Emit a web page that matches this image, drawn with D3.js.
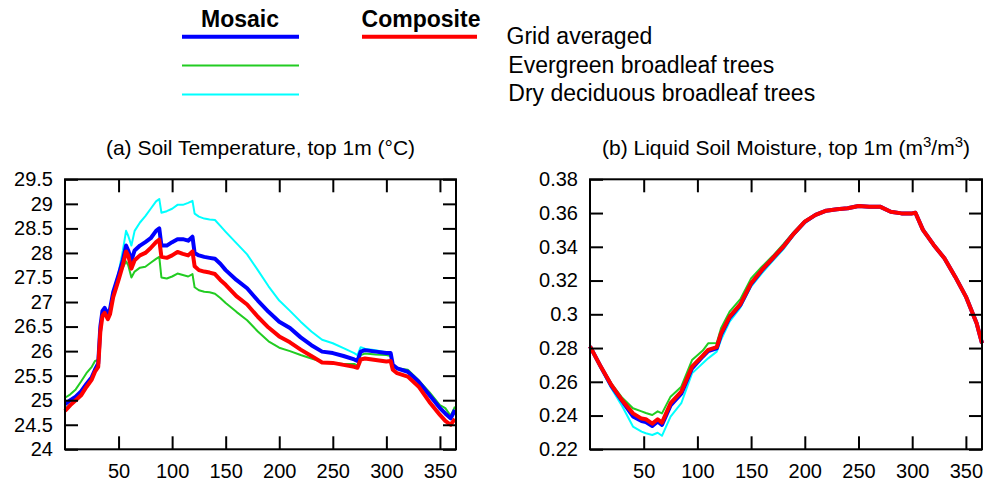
<!DOCTYPE html>
<html>
<head>
<meta charset="utf-8">
<script src="https://cdn.jsdelivr.net/npm/d3@7"></script>
<style>
  body { margin: 0; background: #fff; }
  text { font-family: "Liberation Sans", Arial, sans-serif; fill: #000; }
</style>
</head>
<body>
<div id="chart"></div>
<script>
// (a) soil temperature, top 1m (degC)
var tempDays = [0, 5, 10, 15, 20, 25, 28, 31, 33, 35, 37, 40, 42, 45, 50, 54, 57, 59, 62, 65,
  70, 75, 80, 85, 88, 90, 95, 100, 105, 110, 115, 119, 121, 125, 130, 135, 140, 145, 150, 160,
  170, 180, 190, 200, 210, 220, 230, 240, 250, 260, 270, 273, 276, 280, 290, 300, 304, 306, 310, 320,
  330, 340, 350, 355, 360, 364];
var tempMosaic = [24.92, 25.0, 25.07, 25.18, 25.33, 25.47, 25.62, 25.75, 26.5, 26.82, 26.88, 26.75, 26.85, 27.2, 27.55, 27.85, 28.15, 28.05, 27.85, 28.05,
  28.15, 28.22, 28.3, 28.45, 28.5, 28.15, 28.15, 28.22, 28.28, 28.28, 28.25, 28.33, 28.0, 27.95, 27.92, 27.9, 27.88, 27.78, 27.65, 27.45,
  27.28, 27.03, 26.8, 26.6, 26.47, 26.28, 26.12, 25.99, 25.96, 25.9, 25.83, 25.8, 25.99, 26.02, 25.99, 25.96, 25.96, 25.72, 25.65, 25.58,
  25.38, 25.11, 24.84, 24.73, 24.63, 24.8];
var tempComposite = [24.78, 24.9, 25.0, 25.1, 25.27, 25.42, 25.58, 25.68, 26.4, 26.72, 26.78, 26.65, 26.75, 27.1, 27.45, 27.75, 28.03, 27.95, 27.68, 27.85,
  27.95, 28.0, 28.1, 28.22, 28.27, 27.92, 27.9, 27.95, 28.02, 27.98, 27.95, 28.03, 27.73, 27.65, 27.62, 27.6, 27.57, 27.45, 27.35, 27.12,
  26.95, 26.7, 26.48, 26.3, 26.18, 26.03, 25.9, 25.77, 25.76, 25.72, 25.68, 25.66, 25.83, 25.85, 25.82, 25.79, 25.8, 25.62, 25.55, 25.48,
  25.28, 24.97, 24.7, 24.58, 24.5, 24.62];
var tempEvergreen = [25.05, 25.12, 25.22, 25.38, 25.55, 25.68, 25.8, 25.82, 26.5, 26.8, 26.85, 26.72, 26.85, 27.15, 27.5, 27.7, 27.83, 27.75, 27.5, 27.62,
  27.7, 27.72, 27.8, 27.88, 27.92, 27.5, 27.48, 27.52, 27.58, 27.55, 27.52, 27.57, 27.3, 27.24, 27.21, 27.2, 27.17, 27.08, 26.98, 26.8,
  26.63, 26.4, 26.2, 26.07, 26.0, 25.92, 25.85, 25.78, 25.76, 25.74, 25.74, 25.7, 25.92, 25.95, 25.93, 25.92, 25.9, 25.68, 25.65, 25.62,
  25.41, 25.17, 24.9, 24.84, 24.68, 24.87];
var tempDeciduous = [24.83, 24.92, 25.02, 25.12, 25.27, 25.42, 25.58, 25.72, 26.5, 26.82, 26.88, 26.75, 26.85, 27.22, 27.6, 28.05, 28.45, 28.35, 28.15, 28.45,
  28.62, 28.75, 28.9, 29.05, 29.1, 28.82, 28.85, 28.9, 28.98, 28.98, 29.02, 29.06, 28.8, 28.74, 28.7, 28.68, 28.67, 28.55, 28.43, 28.2,
  27.97, 27.65, 27.32, 27.03, 26.82, 26.6, 26.4, 26.23, 26.16, 26.06, 25.96, 25.92, 26.08, 26.05, 26.02, 25.97, 25.96, 25.72, 25.65, 25.58,
  25.38, 25.12, 24.84, 24.75, 24.63, 24.75];
var tempTicks = [24, 24.5, 25, 25.5, 26, 26.5, 27, 27.5, 28, 28.5, 29, 29.5];

// (b) liquid soil moisture, top 1m (m3/m3)
var moistDays = [0, 10, 20, 30, 40, 48, 52, 58, 63, 67, 75, 85, 95, 105, 110, 118, 122, 130, 140, 150,
  160, 170, 180, 190, 200, 210, 220, 230, 240, 250, 260, 270, 280, 290, 300, 303, 310, 320, 330, 340,
  350, 360, 365];
var moistComposite = [0.281, 0.269, 0.258, 0.249, 0.2413, 0.2382, 0.2378, 0.2352, 0.2378, 0.2358, 0.2473, 0.2542, 0.269, 0.2755, 0.2789, 0.2805, 0.2887, 0.2986, 0.306, 0.3184,
  0.3263, 0.3332, 0.3401, 0.348, 0.3549, 0.3589, 0.3614, 0.3622, 0.3628, 0.3642, 0.3638, 0.3638, 0.3608, 0.3598, 0.3598, 0.3602, 0.35, 0.3411, 0.3332, 0.3223,
  0.3105, 0.2947, 0.2828];
var moistMosaic = [0.281, 0.269, 0.2575, 0.2485, 0.2395, 0.2368, 0.2362, 0.2338, 0.2365, 0.2345, 0.246, 0.253, 0.268, 0.275, 0.2782, 0.2798, 0.288, 0.298, 0.3055, 0.318,
  0.326, 0.333, 0.34, 0.348, 0.3548, 0.3589, 0.3614, 0.3622, 0.3628, 0.3642, 0.3638, 0.3638, 0.3608, 0.3598, 0.3598, 0.3602, 0.35, 0.3411, 0.3332, 0.3223,
  0.3105, 0.2947, 0.2828];
var moistEvergreen = [0.281, 0.2695, 0.259, 0.2505, 0.2443, 0.2425, 0.2415, 0.2403, 0.2425, 0.2413, 0.2512, 0.2571, 0.2729, 0.2785, 0.2828, 0.283, 0.2917, 0.3016, 0.309, 0.3213,
  0.3282, 0.3345, 0.3415, 0.349, 0.3555, 0.3592, 0.3614, 0.3622, 0.3628, 0.3642, 0.3638, 0.3638, 0.3608, 0.3598, 0.3598, 0.3602, 0.35, 0.3411, 0.3332, 0.3223,
  0.3105, 0.2947, 0.2828];
var moistDeciduous = [0.281, 0.268, 0.256, 0.2455, 0.2335, 0.2305, 0.2295, 0.2285, 0.2298, 0.228, 0.2394, 0.2473, 0.265, 0.271, 0.2739, 0.2779, 0.2848, 0.2957, 0.304, 0.3164,
  0.3243, 0.3315, 0.3385, 0.347, 0.354, 0.3586, 0.3612, 0.3622, 0.3628, 0.3642, 0.3638, 0.3638, 0.3608, 0.3598, 0.3598, 0.3602, 0.35, 0.3411, 0.3332, 0.3223,
  0.3105, 0.2947, 0.2828];
var moistTicks = [0.22, 0.24, 0.26, 0.28, 0.3, 0.32, 0.34, 0.36, 0.38];

var dayTicks = [50, 100, 150, 200, 250, 300, 350];

var series = ["Evergreen broadleaf trees", "Dry deciduous broadleaf trees", "Mosaic", "Composite"];
var colors = ["#22cc22", "#00ffff", "#0000ff", "#ff0000"];
var widths = [2, 2, 4, 4];

var width = 985, height = 483;

var svg = d3.select("#chart")
  .append("svg")
    .attr("width", width)
    .attr("height", height);

// legend
var legend = svg.append("g");
legend.append("text").attr("x", 240).attr("y", 26.5)
  .attr("text-anchor", "middle").attr("font-size", 23).attr("font-weight", "bold").text("Mosaic");
legend.append("text").attr("x", 421).attr("y", 26.5)
  .attr("text-anchor", "middle").attr("font-size", 23).attr("font-weight", "bold").text("Composite");

var legendLines = [
  {x1: 182, x2: 299, y: 36.7, c: colors[2], w: 4},
  {x1: 362, x2: 477, y: 36.7, c: colors[3], w: 4},
  {x1: 182, x2: 299, y: 65.5, c: colors[0], w: 2},
  {x1: 182, x2: 299, y: 94.5, c: colors[1], w: 2}
];
legend.selectAll("line")
  .data(legendLines)
  .enter().append("line")
    .attr("x1", function(d) { return d.x1; })
    .attr("x2", function(d) { return d.x2; })
    .attr("y1", function(d) { return d.y; })
    .attr("y2", function(d) { return d.y; })
    .attr("stroke", function(d) { return d.c; })
    .attr("stroke-width", function(d) { return d.w; });

var legendLabels = [
  {x: 506.5, y: 44.3, t: "Grid averaged"},
  {x: 508.3, y: 72.5, t: "Evergreen broadleaf trees"},
  {x: 508.3, y: 101, t: "Dry deciduous broadleaf trees"}
];
legend.selectAll("text.lab")
  .data(legendLabels)
  .enter().append("text")
    .attr("class", "lab")
    .attr("x", function(d) { return d.x; })
    .attr("y", function(d) { return d.y; })
    .attr("font-size", 23)
    .text(function(d) { return d.t; });

function panel(left, right, days, rows, yDomain, yTicks, fmt, title) {
  var top = 179.3, bottom = 449.3;
  var x = d3.scaleLinear().domain([0, 365]).range([left, right]);
  var y = d3.scaleLinear().domain(yDomain).range([bottom, top]);
  var g = svg.append("g");

  // lines first, frame drawn over them
  var line = d3.line()
    .x(function(d) { return x(d[0]); })
    .y(function(d) { return y(d[1]); });
  rows.forEach(function(vals, i) {
    g.append("path")
      .datum(days.map(function(d, j) { return [d, vals[j]]; }))
      .attr("fill", "none")
      .attr("stroke", colors[i])
      .attr("stroke-width", widths[i])
      .attr("stroke-linejoin", "round")
      .attr("d", line);
  });

  var tick = 13;
  g.append("g")
    .attr("transform", "translate(" + left + ",0)")
    .call(d3.axisLeft(y).tickValues(yTicks).tickSize(-tick).tickPadding(12).tickFormat(fmt));
  g.append("g")
    .attr("transform", "translate(" + right + ",0)")
    .call(d3.axisRight(y).tickValues(yTicks).tickSize(-tick).tickFormat(""));
  g.append("g")
    .attr("transform", "translate(0," + bottom + ")")
    .call(d3.axisBottom(x).tickValues(dayTicks).tickSize(-tick).tickPadding(15));
  g.append("g")
    .attr("transform", "translate(0," + top + ")")
    .call(d3.axisTop(x).tickValues(dayTicks).tickSize(-tick).tickFormat(""));

  g.selectAll(".domain").remove();
  g.selectAll(".tick line").attr("stroke", "#000").attr("stroke-width", 2);
  g.selectAll(".tick text")
    .attr("font-family", "Liberation Sans, Arial, sans-serif")
    .attr("font-size", 20)
    .attr("fill", "#000");

  g.append("rect")
    .attr("x", left).attr("y", top)
    .attr("width", right - left).attr("height", bottom - top)
    .attr("fill", "none")
    .attr("stroke", "#000")
    .attr("stroke-width", 2);

  var t = g.append("text")
    .attr("x", (left + right) / 2)
    .attr("y", 155)
    .attr("text-anchor", "middle")
    .attr("font-size", 21);
  title(t);
}

panel(65, 456, tempDays, [tempEvergreen, tempDeciduous, tempMosaic, tempComposite],
  [24, 29.5], tempTicks, function(d) { return d; },
  function(t) { t.text("(a) Soil Temperature, top 1m (\u00B0C)"); });

panel(590, 982, moistDays, [moistEvergreen, moistDeciduous, moistMosaic, moistComposite],
  [0.22, 0.38], moistTicks, function(d) { return d; },
  function(t) {
    t.append("tspan").text("(b) Liquid Soil Moisture, top 1m (m");
    t.append("tspan").attr("dy", -8).attr("font-size", 15).text("3");
    t.append("tspan").attr("dy", 8).text("/m");
    t.append("tspan").attr("dy", -8).attr("font-size", 15).text("3");
    t.append("tspan").attr("dy", 8).text(")");
  });
</script>
</body>
</html>
